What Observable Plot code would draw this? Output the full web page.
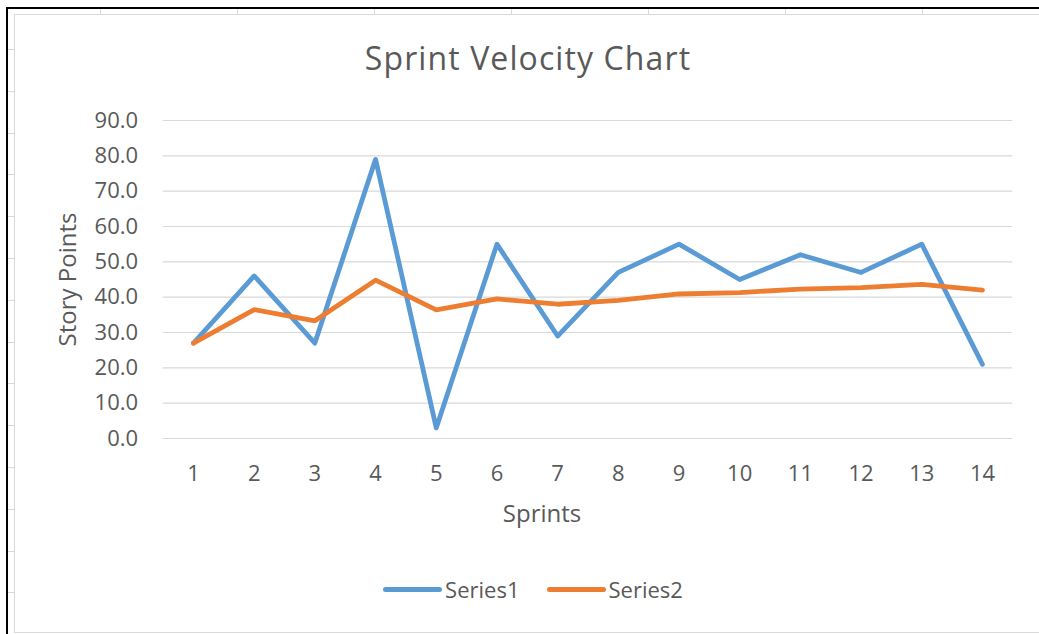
<!DOCTYPE html>
<html>
<head>
<meta charset="utf-8">
<script src="https://cdn.jsdelivr.net/npm/d3@7"></script>
<script src="https://cdn.jsdelivr.net/npm/@observablehq/plot@0.6"></script>
<style>
  body { margin: 0; background: #fff; }
  #page { position: relative; width: 1039px; height: 634px; overflow: hidden; background: #fff; font-family: "Open Sans", Lato, sans-serif; color: #595959; }
  .frame { position: absolute; left: 6px; top: 7px; right: -10px; bottom: -10px; border-left: 2px solid #000; border-top: 2px solid #000; }
  .strip-left { position: absolute; left: 8px; top: 9px; width: 6px; bottom: 0; background: repeating-linear-gradient(to bottom, transparent 0, transparent 40px, #d9d9d9 40px, #d9d9d9 41px, transparent 41px, transparent 41.8px); }
  .strip-top { position: absolute; left: 8px; top: 9px; height: 6px; right: 0; background: repeating-linear-gradient(to right, transparent 0, transparent 92px, #d9d9d9 92px, #d9d9d9 93px, transparent 93px, transparent 137px); }
  .area { position: absolute; left: 14px; top: 14px; right: -5px; height: 617px; border: 1px solid #d9d9d9; background: #fff; }
  #chart { position: absolute; left: 0; top: 0; width: 1039px; }
  .title { height: 100px; box-sizing: border-box; padding-top: 39px; padding-left: 17px; text-align: center; font-size: 32px; letter-spacing: 1.1px; line-height: 38px; color: #595959; }
  .xlabel { height: 50px; box-sizing: border-box; padding-top: 0; padding-left: 45px; text-align: center; font-size: 24px; line-height: 26px; color: #595959; }
  .legend { display: flex; justify-content: center; align-items: center; gap: 27px; padding-top: 27px; padding-left: 27px; font-size: 22px; line-height: 24px; color: #595959; }
  .legend .item { display: flex; align-items: center; gap: 3px; }
  .legend .sw { width: 59px; height: 5px; border-radius: 3px; display: inline-block; }
</style>
</head>
<body>
<div id="page">
  <div class="frame"></div>
  <div class="strip-left"></div>
  <div class="strip-top"></div>
  <div class="area"></div>
  <div id="chart"></div>
</div>
<script>
const sprints = [1, 2, 3, 4, 5, 6, 7, 8, 9, 10, 11, 12, 13, 14];
const series1 = [27, 46, 27, 79, 3, 55, 29, 47, 55, 45, 52, 47, 55, 21];
const series2 = [27, 36.5, 33.3, 44.8, 36.4, 39.5, 38.0, 39.1, 40.9, 41.3, 42.3, 42.7, 43.6, 42.0];
const yTicks = [0, 10, 20, 30, 40, 50, 60, 70, 80, 90];
const seriesNames = ["Series1", "Series2"];
const seriesColors = ["#5B9BD5", "#ED7D31"];
const titleText = "Sprint Velocity Chart";
const xTitle = "Sprints";
const yTitle = "Story Points";

const rows = [];
sprints.forEach((s, i) => {
  rows.push({sprint: s, value: series1[i], series: seriesNames[0]});
});
sprints.forEach((s, i) => {
  rows.push({sprint: s, value: series2[i], series: seriesNames[1]});
});

const chart = document.getElementById("chart");

const title = document.createElement("div");
title.className = "title";
title.textContent = titleText;
chart.appendChild(title);

const plot = Plot.plot({
  width: 1039,
  height: 400,
  marginTop: 20,
  marginBottom: 62,
  marginLeft: 162.65,
  marginRight: 26.7,
  style: {fontFamily: "'Open Sans', Lato, sans-serif", fontSize: "22px", color: "#595959", background: "transparent", overflow: "visible"},
  x: {domain: [0.5, 14.5]},
  y: {domain: [0, 90]},
  color: {domain: seriesNames, range: seriesColors},
  marks: [
    Plot.ruleY(yTicks, {stroke: "#d9d9d9", strokeWidth: 1.2}),
    Plot.axisY(yTicks, {tickSize: 0, tickPadding: 25, tickFormat: d3.format(".1f"), label: yTitle, labelArrow: "none", labelAnchor: "center", labelOffset: 104, fontSize: 22, fill: "#595959"}),
    Plot.axisX(sprints, {tickSize: 0, tickPadding: 27, tickFormat: d => String(d), label: null, fontSize: 22, fill: "#595959"}),
    Plot.line(rows, {x: "sprint", y: "value", z: "series", stroke: "series", strokeWidth: 4.8, strokeLinejoin: "round", strokeLinecap: "round"})
  ]
});
const yl = plot.querySelector('[aria-label="y-axis label"]');
if (yl) yl.setAttribute("font-size", "24");
chart.appendChild(plot);

const xl = document.createElement("div");
xl.className = "xlabel";
xl.textContent = xTitle;
chart.appendChild(xl);

const legend = document.createElement("div");
legend.className = "legend";
seriesNames.forEach((name, i) => {
  const item = document.createElement("div");
  item.className = "item";
  const sw = document.createElement("span");
  sw.className = "sw";
  sw.style.background = seriesColors[i];
  const t = document.createElement("span");
  t.textContent = name;
  item.appendChild(sw);
  item.appendChild(t);
  legend.appendChild(item);
});
chart.appendChild(legend);
</script>
</body>
</html>
